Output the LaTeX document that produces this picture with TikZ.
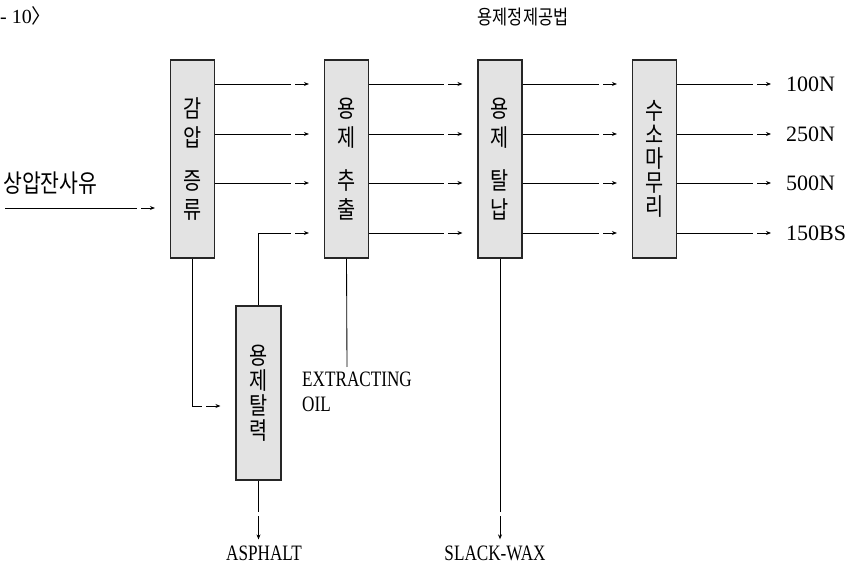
\documentclass[tikz,border=0pt]{standalone}
\usepackage{fontspec}
\setmainfont{Liberation Serif}
\newfontfamily\kr{Noto Sans CJK KR}
\newfontfamily\krn[FakeStretch=0.82]{Noto Sans CJK KR}
\newfontfamily\narrow[FakeStretch=0.78]{Liberation Serif}
\usetikzlibrary{arrows.meta,decorations.markings}

\begin{document}
\begin{tikzpicture}[x=1pt,y=-1pt]
    \tikzstyle{every node}=[align=center, inner sep=0pt];
    \tikzstyle{unit} = [draw=black!85, line width=1.1pt, fill=gray!22, minimum width=44pt, minimum height=198pt, font=\krn\fontsize{24}{29}\selectfont]
    \tikzstyle{flow} = [line width=0.85pt, -{Stealth[length=5pt,width=4pt]}, shorten >=15pt, postaction={decorate},
        decoration={markings, mark=at position -31pt with {\fill[white] (-2,-2) rectangle (2,2);}}]
    \tikzstyle{pipe} = [line width=0.85pt]
    \tikzstyle{prod} = [font=\fontsize{22}{25}\selectfont]
    \tikzstyle{waste} = [font=\narrow\fontsize{22}{25}\selectfont]

    \useasboundingbox (0,0) rectangle (847,569);

    \node[anchor=west, font=\fontsize{20}{22}\selectfont] (fig) at (0,16) {- 10{\kr 〉}};
    \node[font=\krn\fontsize{20}{22}\selectfont] (title) at (523,17) {용제정제공법};

    \node[unit] (VacDist) at (192.5,159) {감\\압\\[14pt]증\\류};
    \node[unit] (SolvExt) at (346.5,159) {용\\제\\[14pt]추\\출};
    \node[unit] (SolvDewax) at (500,159) {용\\제\\[14pt]탈\\납};
    \node[unit, font=\krn\fontsize{24}{24}\selectfont] (HydroFin) at (654.5,159) {수\\소\\마\\무\\리};
    \node[unit, minimum width=45pt, minimum height=174pt, font=\krn\fontsize{24}{25}\selectfont] (Deasph) at (258.5,393) {용\\제\\탈\\력};

    \coordinate (r1) at (0,84);
    \coordinate (r2) at (0,134);
    \coordinate (r3) at (0,183);
    \coordinate (r4) at (0,233);

    % feed
    \node[anchor=west, font=\krn\fontsize{25}{27}\selectfont] (Feed) at (3,183) {상압잔사유};
    \coordinate (in) at (5,208);
    \draw[flow] (in) -- (VacDist.west |- in);

    % products
    \node[prod, anchor=west] (P1) at (786,84) {100N};
    \node[prod, anchor=west] (P2) at (786,134) {250N};
    \node[prod, anchor=west] (P3) at (786,183) {500N};
    \node[prod, anchor=west] (P4) at (786,233) {150BS};

    \foreach \r in {1,2,3}
        \draw[flow] (VacDist.east |- r\r) -- (SolvExt.west |- r\r);
    \foreach \r in {1,...,4} {
        \draw[flow] (SolvExt.east |- r\r) -- (SolvDewax.west |- r\r);
        \draw[flow] (SolvDewax.east |- r\r) -- (HydroFin.west |- r\r);
        \draw[flow] (HydroFin.east |- r\r) -- (P\r.west);
    }

    \draw[flow] (VacDist.south) |- ([yshift=-13pt]Deasph.west);
    \draw[flow] (Deasph.north) |- (SolvExt.west |- r4);

    % side streams
    \coordinate (eoil) at (347,367);
    \draw[pipe] (SolvExt.south) -- (eoil);
    \node[waste, anchor=north west, align=left] (ExtOil) at (302,372) {EXTRACTING\\OIL};

    \node[waste] (Asphalt) at (264,553) {ASPHALT};
    \node[waste] (Wax) at (495,553) {SLACK-WAX};
    \draw[flow, shorten >=6pt] (Deasph.south) -- (Deasph.south |- Asphalt.north);
    \draw[flow, shorten >=6pt] (SolvDewax.south) -- (SolvDewax.south |- Wax.north);

\end{tikzpicture}
\end{document}
